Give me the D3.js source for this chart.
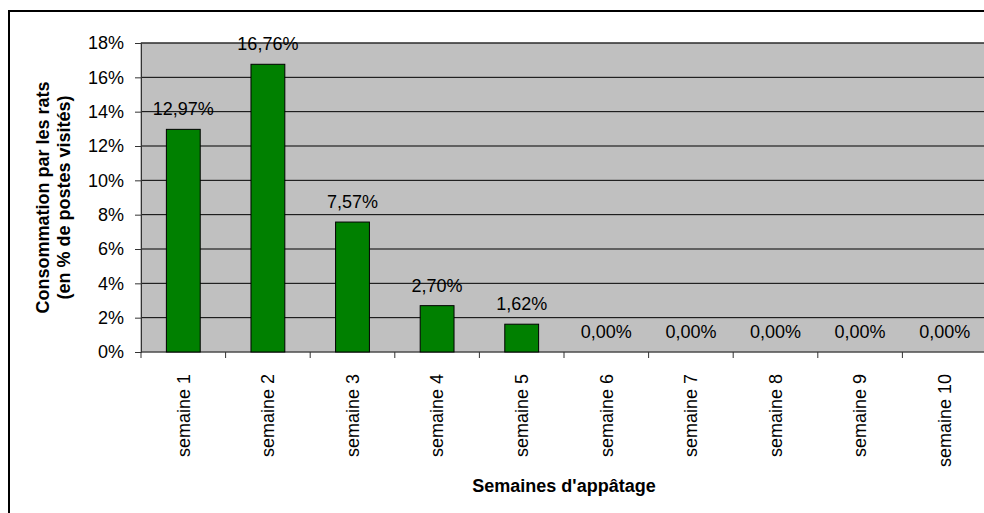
<!DOCTYPE html>
<html>
<head>
<meta charset="utf-8">
<script src="https://cdn.jsdelivr.net/npm/d3@7"></script>
<style>
  html, body { margin: 0; padding: 0; background: #fff; }
  svg { display: block; font-family: "Liberation Sans", Arial, sans-serif; }
</style>
</head>
<body>
<svg id="chart" width="984" height="513"></svg>
<script>
const categories = ["semaine 1","semaine 2","semaine 3","semaine 4","semaine 5","semaine 6","semaine 7","semaine 8","semaine 9","semaine 10"];
const values = [12.97, 16.76, 7.57, 2.70, 1.62, 0, 0, 0, 0, 0];
const yTicks = [0, 2, 4, 6, 8, 10, 12, 14, 16, 18];
const yTitleLines = ["Consommation par les rats", "(en % de postes visités)"];
const xTitle = "Semaines d'appâtage";

const svg = d3.select("#chart");
const plot = { left: 141, top: 43, right: 987, bottom: 352 };

// outer chart border
svg.append("rect")
  .attr("x", 9).attr("y", 11)
  .attr("width", 1000).attr("height", 520)
  .attr("fill", "#fff").attr("stroke", "#000").attr("stroke-width", 2);

const x = d3.scaleBand().domain(categories)
  .range([plot.left, plot.right])
  .paddingInner(0.6).paddingOuter(0.3);
const y = d3.scaleLinear().domain([0, 18]).range([plot.bottom, plot.top]);
const step = x.step();

// plot background
svg.append("rect")
  .attr("x", plot.left).attr("y", plot.top)
  .attr("width", plot.right - plot.left).attr("height", plot.bottom - plot.top)
  .attr("fill", "#c0c0c0").attr("stroke", "#808080").attr("stroke-width", 1);

// gridlines
svg.append("g").selectAll("line").data(yTicks.filter(d => d > 0)).join("line")
  .attr("x1", plot.left).attr("x2", plot.right)
  .attr("y1", d => y(d)).attr("y2", d => y(d))
  .attr("stroke", "#000").attr("stroke-width", 1);

// y axis
const yAxis = d3.axisLeft(y).tickValues(yTicks).tickSize(6).tickPadding(11)
  .tickFormat(d => d + "%");
const gy = svg.append("g").attr("transform", `translate(${plot.left},0)`).call(yAxis);
gy.select(".domain").attr("stroke", "#333");
gy.selectAll(".tick line").attr("stroke", "#333");
gy.selectAll(".tick text").attr("font-size", 18).attr("fill", "#000")
  .attr("font-family", "Liberation Sans, Arial, sans-serif");

// x axis line
svg.append("line")
  .attr("x1", plot.left).attr("x2", plot.right)
  .attr("y1", plot.bottom).attr("y2", plot.bottom)
  .attr("stroke", "#333");

// x boundary ticks
const boundaries = categories.map(c => x(c) - step * 0.3);
svg.append("g").selectAll("line").data(boundaries).join("line")
  .attr("x1", d => d).attr("x2", d => d)
  .attr("y1", plot.bottom).attr("y2", plot.bottom + 6)
  .attr("stroke", "#333");

// x labels (rotated)
svg.append("g").selectAll("text").data(categories).join("text")
  .attr("transform", d => `translate(${x(d) + x.bandwidth() / 2},374) rotate(-90)`)
  .attr("text-anchor", "end").attr("dy", "0.35em")
  .attr("font-size", 18).attr("fill", "#000")
  .text(d => d);

// bars
svg.append("g").selectAll("rect").data(values).join("rect")
  .attr("x", (d, i) => x(categories[i]))
  .attr("width", x.bandwidth())
  .attr("y", d => y(d))
  .attr("height", d => y(0) - y(d))
  .attr("fill", "#008000").attr("stroke", "#000").attr("stroke-width", 1)
  .attr("display", d => d > 0 ? null : "none");

// value labels
svg.append("g").selectAll("text").data(values).join("text")
  .attr("x", (d, i) => x(categories[i]) + x.bandwidth() / 2)
  .attr("y", d => y(d) - 14)
  .attr("text-anchor", "middle")
  .attr("font-size", 18).attr("fill", "#000")
  .text(d => d.toFixed(2).replace(".", ",") + "%");

// y title
const yt = svg.append("text")
  .attr("transform", `translate(49,${(plot.top + plot.bottom) / 2}) rotate(-90)`)
  .attr("text-anchor", "middle")
  .attr("font-size", 18).attr("font-weight", "bold").attr("fill", "#000");
yTitleLines.forEach((t, i) => {
  yt.append("tspan").attr("x", 0).attr("dy", i === 0 ? 0 : 21).text(t);
});

// x title
svg.append("text")
  .attr("x", (plot.left + plot.right) / 2).attr("y", 492)
  .attr("text-anchor", "middle")
  .attr("font-size", 18).attr("font-weight", "bold").attr("fill", "#000")
  .text(xTitle);
</script>
</body>
</html>
